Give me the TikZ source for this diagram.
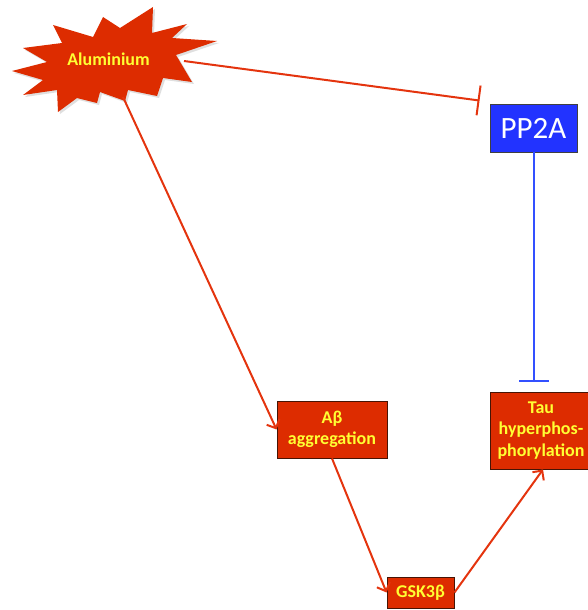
\documentclass[tikz,border=0pt]{standalone}
\usepackage{fontspec}
\setmainfont{Carlito}
\usetikzlibrary{arrows.meta}

\definecolor{boxred}{RGB}{221,44,0}
\definecolor{linkred}{RGB}{228,52,14}
\definecolor{labelyellow}{RGB}{255,255,51}
\definecolor{ppblue}{RGB}{34,51,255}
\definecolor{inhblue}{RGB}{50,80,255}
\definecolor{edgedark}{RGB}{70,20,5}

\tikzset{
  redbox/.style={draw=edgedark, line width=0.9pt, fill=boxred, text=labelyellow,
    font=\bfseries\fontsize{18}{21.5}\selectfont, align=center, inner sep=0pt},
  bluebox/.style={draw=black!75, line width=0.9pt, fill=ppblue, text=white,
    font=\fontsize{31}{34}\selectfont, inner sep=0pt},
  activates/.style={draw=linkred, line width=2pt,
    -{Straight Barb[length=7pt,width=14pt,line width=2pt]}},
  inhibits/.style={line width=2pt, -{Bar[width=30pt,line width=2pt]}},
}

\begin{document}
\begin{tikzpicture}[x=1pt, y=-1pt]
  \useasboundingbox (0,0) rectangle (588,610);
  \clip (0,0) rectangle (588,610);

  % burst shape behind the "Aluminium" label
  \fill[black!25, opacity=0.5, xshift=2pt, yshift=-2pt]
    (53,25) -- (93,37) -- (103,17) -- (120,28) -- (153,7) -- (152,33) --
    (187,24) -- (172,38) -- (217,41) -- (176,55) -- (192,82) -- (163,78) --
    (157,96) -- (128,90) -- (125,101) -- (100,92) -- (97,103) -- (77,98) --
    (58,112) -- (57,90) -- (23,95) -- (43,80) -- (12,71) -- (47,62) --
    (23,48) -- (62,43) -- cycle;
  \fill[boxred]
    (53,25) -- (93,37) -- (103,17) -- (120,28) -- (153,7) -- (152,33) --
    (187,24) -- (172,38) -- (217,41) -- (176,55) -- (192,82) -- (163,78) --
    (157,96) -- (128,90) -- (125,101) -- (100,92) -- (97,103) -- (77,98) --
    (58,112) -- (57,90) -- (23,95) -- (43,80) -- (12,71) -- (47,62) --
    (23,48) -- (62,43) -- cycle;
  \node[text=labelyellow, font=\bfseries\fontsize{18}{21.5}\selectfont, anchor=base]
    (alu) at (108.5,66) {Aluminium};
  \coordinate (aluR) at (184,61);
  \coordinate (aluB) at (123,97);

  % boxes
  \node[bluebox, minimum width=87pt, minimum height=48pt] (pp) at (533.5,128) {PP2A};
  \node[redbox, minimum width=110pt, minimum height=57pt] (ab) at (332,429.5) {Aβ\\aggregation};
  \node[redbox, minimum width=67pt, minimum height=31pt] (gsk) at (420.5,592.5) {GSK3β};
  \node[redbox, minimum width=102pt, minimum height=77pt] (tau) at (541,430.5) {Tau\\hyperphos-\\phorylation};

  % connectors
  \draw[inhibits, draw=linkred] (aluR) -- ([shift={(-10pt,3pt)}]pp.north west);
  \draw[inhibits, draw=inhblue] (pp.south) -- ([yshift=10pt]pp.south |- tau.north);
  \draw[activates] (aluB) -- (ab.west);
  \draw[activates] (ab.south) -- (gsk.west);
  \draw[activates] (gsk.east) -- ([xshift=2pt]tau.south);
\end{tikzpicture}
\end{document}
